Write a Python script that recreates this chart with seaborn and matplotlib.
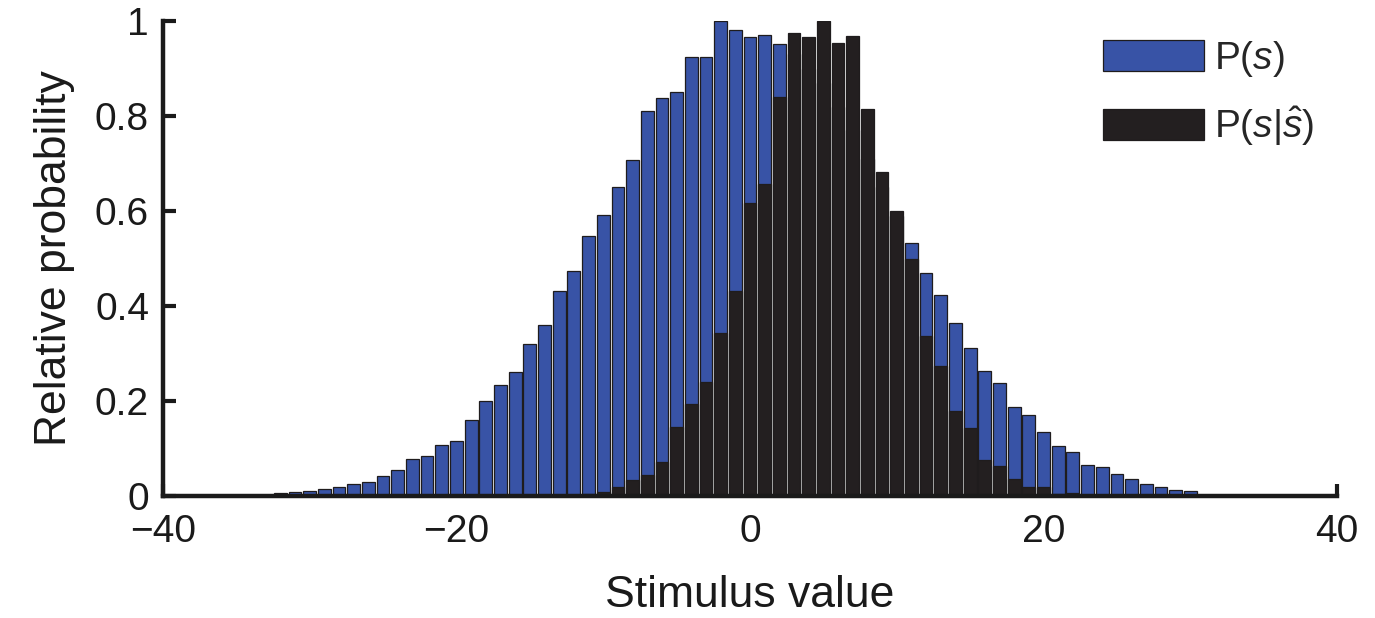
import numpy as np
import pandas as pd
import matplotlib
matplotlib.use("Agg")
import matplotlib.pyplot as plt
import seaborn as sns
from matplotlib.patches import Patch

# Stimulus bins (bin width 1, centred on integers)
stimulus = list(range(-35, 36))

# Prior over stimulus values, P(s)
p_s = [0.002, 0.002, 0.002, 0.006, 0.008, 0.011, 0.015, 0.020, 0.025, 0.030,
       0.042, 0.055, 0.078, 0.084, 0.107, 0.116, 0.161, 0.200, 0.233, 0.262,
       0.319, 0.361, 0.432, 0.474, 0.548, 0.592, 0.650, 0.708, 0.811, 0.837,
       0.851, 0.924, 0.924, 1.000, 0.981, 0.967, 0.971, 0.952, 0.930, 0.900,
       0.870, 0.820, 0.770, 0.710, 0.650, 0.590, 0.533, 0.470, 0.423, 0.364,
       0.312, 0.264, 0.237, 0.187, 0.170, 0.135, 0.106, 0.093, 0.065, 0.061,
       0.046, 0.035, 0.025, 0.019, 0.012, 0.011, 0.003, 0.002, 0.002, 0.002,
       0.002]

# Posterior given the estimate, P(s|s_hat)
p_s_given_shat = [0.000, 0.000, 0.000, 0.000, 0.000, 0.000, 0.000, 0.000, 0.000, 0.000,
                  0.000, 0.000, 0.000, 0.000, 0.000, 0.000, 0.000, 0.000, 0.000, 0.000,
                  0.000, 0.001, 0.001, 0.002, 0.004, 0.009, 0.018, 0.034, 0.044, 0.072,
                  0.146, 0.194, 0.241, 0.343, 0.432, 0.616, 0.656, 0.840, 0.975, 0.967,
                  1.000, 0.953, 0.968, 0.814, 0.683, 0.601, 0.498, 0.337, 0.274, 0.178,
                  0.144, 0.076, 0.064, 0.035, 0.018, 0.018, 0.004, 0.006, 0.003, 0.002,
                  0.001, 0.000, 0.000, 0.000, 0.000, 0.000, 0.000, 0.000, 0.000, 0.000,
                  0.000]

x_ticks = [-40, -20, 0, 20, 40]
y_ticks = [0, 0.2, 0.4, 0.6, 0.8, 1]
y_tick_labels = ["0", "0.2", "0.4", "0.6", "0.8", "1"]
series_labels = [r"P($\mathit{s}$)", r"P($\mathit{s}$|$\hat{\mathit{s}}$)"]

BLUE = "#3853a6"
BLACK = "#231f20"
EDGE = "#1f1c1d"

sns.set_style("ticks")
plt.rcParams["font.family"] = ["Liberation Sans", "DejaVu Sans"]
plt.rcParams["mathtext.fontset"] = "custom"
plt.rcParams["mathtext.rm"] = "Liberation Sans"
plt.rcParams["mathtext.it"] = "Liberation Sans:italic"

df = pd.DataFrame({"stimulus": stimulus, "prior": p_s, "posterior": p_s_given_shat})

fig = plt.figure(figsize=(13.75, 6.18), dpi=100)
ax = fig.add_axes([0.1185, 0.1974, 0.8539, 0.7686])

bar_kw = dict(native_scale=True, width=0.87, saturation=1, edgecolor=EDGE,
              linewidth=0.9, errorbar=None, ax=ax)
sns.barplot(data=df, x="stimulus", y="prior", color=BLUE, zorder=2, **bar_kw)
sns.barplot(data=df, x="stimulus", y="posterior", color=BLACK, zorder=3, **bar_kw)

ax.set_xlim(-40, 40)
ax.set_ylim(0, 1)
ax.set_xticks(x_ticks)
ax.set_xticklabels([f"{t}".replace("-", "\u2212") for t in x_ticks])
ax.set_yticks(y_ticks)
ax.set_yticklabels(y_tick_labels)
ax.tick_params(axis="both", direction="in", length=9, width=3, labelsize=28,
               color="#1a1a1a", labelcolor="#1a1a1a")
ax.tick_params(axis="x", pad=13)
ax.tick_params(axis="y", pad=10)

sns.despine(ax=ax, top=True, right=True)
for side in ("left", "bottom"):
    ax.spines[side].set_linewidth(3.2)
    ax.spines[side].set_color("#1a1a1a")
    ax.spines[side].set_zorder(5)

ax.set_xlabel("Stimulus value", fontsize=32, labelpad=18, color="#1a1a1a")
ax.set_ylabel("Relative probability", fontsize=32, labelpad=14, color="#1a1a1a")

handles = [Patch(facecolor=BLUE, edgecolor=EDGE, linewidth=0.9),
           Patch(facecolor=BLACK, edgecolor=EDGE, linewidth=0.9)]
fig.legend(handles, series_labels, loc="upper left",
           bbox_to_anchor=(1103 / 1375, 1 - 39 / 618),
           bbox_transform=fig.transFigure, frameon=False, fontsize=28,
           handlelength=2.6, handleheight=0.85, handletextpad=0.26,
           labelspacing=0.67, borderpad=0, borderaxespad=0)

fig.savefig("out.png", dpi=100, facecolor="white")
